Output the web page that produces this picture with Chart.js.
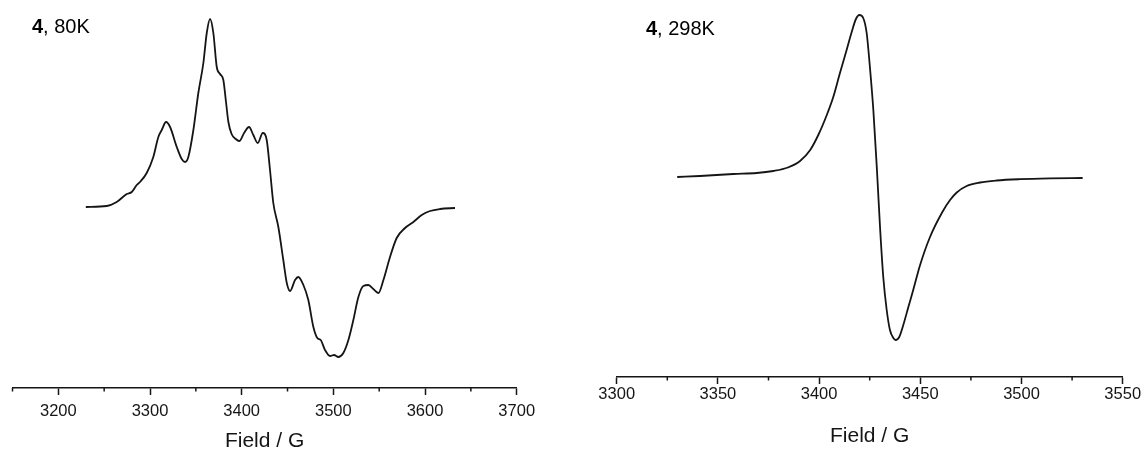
<!DOCTYPE html>
<html>
<head>
<meta charset="utf-8">
<script src="https://cdn.jsdelivr.net/npm/chart.js@4.4.0/dist/chart.umd.min.js"></script>
<style>
  html, body { margin: 0; padding: 0; background: #fff; }
  #wrap { position: relative; width: 1145px; height: 450px; overflow: hidden; }
  #lowT { position: absolute; left: 0; top: 0; }
  #roomT { position: absolute; left: 572px; top: 0; }
</style>
</head>
<body>
<div id="wrap">
  <canvas id="lowT" width="572" height="450"></canvas>
  <canvas id="roomT" width="573" height="450"></canvas>
</div>
<script>
// EPR first-derivative spectra of compound 4 (field in gauss, signal in arbitrary units)
const field80K = [3230, 3252.8, 3263.7, 3274.6, 3280.1, 3285.5, 3289.1, 3296.4, 3303.6, 3309.1,
  3312.8, 3317.5, 3321.9, 3329.2, 3334.6, 3338.2, 3341.8, 3347.3, 3352.7, 3358.2,
  3361.9, 3365.5, 3369.1, 3372.8, 3376.4, 3380.0, 3382.9, 3385.5, 3389.0, 3393.5,
  3397.4, 3402.6, 3408.0, 3412.7, 3417.5, 3423.0, 3427.3, 3430.9, 3434.5, 3440.0,
  3445.4, 3449.2, 3452.8, 3458.2, 3461.8, 3467.3, 3472.7, 3478.2, 3482.5, 3486.2,
  3490.9, 3496.4, 3500.8, 3505.4, 3510.9, 3516.4, 3521.8, 3527.3, 3532.7, 3538.2,
  3543.6, 3549.1, 3554.6, 3561.8, 3569.1, 3578.2, 3587.3, 3596.4, 3605.5, 3616.4, 3632.7];
const signal80K = [0, 1, 5, 13, 15, 22, 25, 34, 50, 70,
  77, 85, 80, 60, 48, 45, 50, 77, 114, 144,
  174, 188, 174, 140, 133, 127, 105, 85, 73, 68,
  66, 74, 80, 72, 64, 74, 67, 37, 4, -20,
  -53, -76, -84, -73, -70, -78, -93, -120, -131, -133,
  -143, -149, -148, -150, -146, -133, -113, -90, -79, -78,
  -82, -86, -73, -50, -31, -21, -15, -8, -4, -2, -1];

const field298K = [3329.9, 3341.2, 3357.6, 3369.2, 3377.4, 3384.6, 3390.6, 3395.6, 3399.6, 3403.8,
  3407.0, 3410.3, 3413.6, 3416.1, 3418.2, 3419.9, 3421.8, 3423.5, 3425.1, 3426.8,
  3428.5, 3430.1, 3431.7, 3433.4, 3435.0, 3436.7, 3437.8, 3439.6, 3441.6, 3444.1,
  3446.5, 3449.9, 3454.8, 3460.9, 3464.7, 3468.0, 3472.9, 3479.5, 3487.7, 3499.3,
  3514.1, 3530.2];
const signal298K = [0, 1, 3, 4, 6, 9.5, 16, 27, 42, 62,
  80, 104, 127, 145, 158, 162, 159, 144, 110, 67,
  10, -50, -100, -133, -153, -161, -163, -160, -148, -130,
  -113, -88, -60, -35, -23, -15.5, -9, -5.5, -3.5, -2.2,
  -1.4, -1];

// axis ticks
const majorTicks80K = [3200, 3300, 3400, 3500, 3600, 3700];
const minorTicks80K = [3150, 3250, 3350, 3450, 3550, 3650];
const majorTicks298K = [3300, 3350, 3400, 3450, 3500, 3550];
const minorTicks298K = [3325, 3375, 3425, 3475, 3525];

const FONT = '"Liberation Sans", Arial, Helvetica, sans-serif';
const INK = '#151515';

// short ticks between the labelled ones
const minorTickPlugin = {
  id: 'minorTicks',
  afterDraw(chart, args, opts) {
    const sx = chart.scales.x;
    const ctx = chart.ctx;
    ctx.save();
    ctx.strokeStyle = INK;
    ctx.lineWidth = 1.5;
    opts.values.forEach(v => {
      const px = sx.getPixelForValue(v);
      ctx.beginPath();
      ctx.moveTo(px, sx.top);
      ctx.lineTo(px, sx.top + opts.length);
      ctx.stroke();
    });
    ctx.restore();
  }
};

// sample label: bold compound number followed by temperature
const sampleLabelPlugin = {
  id: 'sampleLabel',
  afterDraw(chart, args, opts) {
    const ctx = chart.ctx;
    ctx.save();
    ctx.fillStyle = '#000';
    ctx.textBaseline = 'middle';
    ctx.textAlign = 'left';
    ctx.font = 'bold 20px ' + FONT;
    ctx.fillText(opts.compound, opts.x, opts.y);
    const w = ctx.measureText(opts.compound).width;
    ctx.font = '20px ' + FONT;
    ctx.fillText(', ' + opts.temperature, opts.x + w, opts.y);
    ctx.restore();
  }
};

function spectrum(canvasId, fields, signal, cfg) {
  const points = fields.map((f, i) => ({ x: f, y: signal[i] }));
  return new Chart(document.getElementById(canvasId), {
    type: 'line',
    data: {
      datasets: [{
        data: points,
        borderColor: INK,
        borderWidth: 1.8,
        pointRadius: 0,
        fill: false,
        cubicInterpolationMode: 'monotone'
      }]
    },
    options: {
      responsive: false,
      animation: false,
      events: [],
      layout: { padding: cfg.padding },
      plugins: {
        legend: { display: false },
        tooltip: { enabled: false },
        minorTicks: { values: cfg.minor, length: 3.5 },
        sampleLabel: cfg.label
      },
      scales: {
        x: {
          type: 'linear',
          min: cfg.xMin,
          max: cfg.xMax,
          afterBuildTicks: s => { s.ticks = cfg.major.map(v => ({ value: v })); },
          afterFit: s => { s.height = cfg.axisHeight; },
          grid: {
            display: true, drawOnChartArea: false, drawTicks: true,
            tickLength: 7, tickWidth: 1.5, tickColor: INK
          },
          border: { display: true, color: INK, width: 1.5 },
          ticks: {
            color: INK, padding: cfg.tickPad, maxRotation: 0, autoSkip: false,
            font: { family: FONT, size: 16.5 },
            callback: v => String(v)
          },
          title: {
            display: true, text: 'Field / G', color: INK,
            font: { family: FONT, size: 21, lineHeight: 0.8 },
            padding: { top: 0, bottom: cfg.titlePad }
          }
        },
        y: { display: false, min: cfg.yMin, max: cfg.yMax }
      }
    },
    plugins: [minorTickPlugin, sampleLabelPlugin]
  });
}

spectrum('lowT', field80K, signal80K, {
  xMin: 3150, xMax: 3700, yMin: -181, yMax: 207,
  major: majorTicks80K, minor: minorTicks80K,
  padding: { left: 12.5, right: 55.3, top: 0, bottom: 0 },
  axisHeight: 62, tickPad: 7, titlePad: 0,
  label: { compound: '4', temperature: '80K', x: 32, y: 27 }
});

spectrum('roomT', field298K, signal298K, {
  xMin: 3300, xMax: 3550, yMin: -200, yMax: 177,
  major: majorTicks298K, minor: minorTicks298K,
  padding: { left: 44.7, right: 22.3, top: 0, bottom: 0 },
  axisHeight: 73, tickPad: 0.5, titlePad: 5,
  label: { compound: '4', temperature: '298K', x: 74, y: 29 }
});
</script>
</body>
</html>
